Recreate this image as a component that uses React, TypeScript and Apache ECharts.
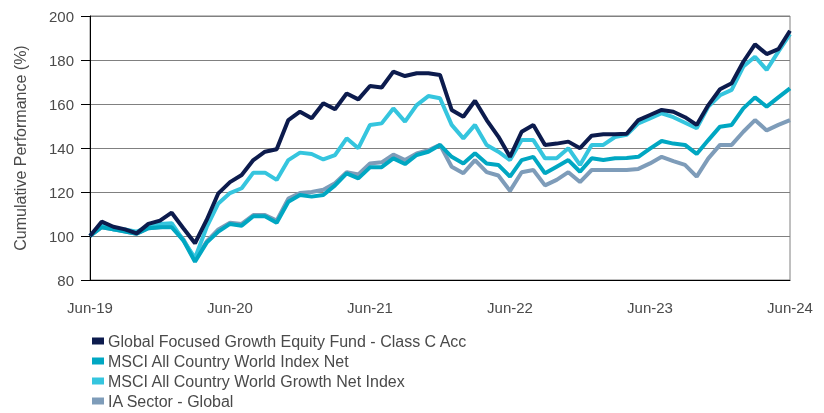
import React, { useEffect, useRef } from "react";
import * as echarts from "echarts";

const monthNames = ["Jan","Feb","Mar","Apr","May","Jun","Jul","Aug","Sep","Oct","Nov","Dec"];
const startYear = 2019;
const startMonth = 5; // June
const pointCount = 61;
const categories: string[] = Array.from({ length: pointCount }, (_, i) => {
  const m = (startMonth + i) % 12;
  const y = startYear + Math.floor((startMonth + i) / 12);
  return `${monthNames[m]}-${String(y).slice(2)}`;
});

const fundName = "Global Focused Growth Equity Fund - Class C Acc";
const acwiName = "MSCI All Country World Index Net";
const growthName = "MSCI All Country World Growth Net Index";
const iaName = "IA Sector - Global";

const fund = [
  100, 106.5, 104.2, 103, 101.2, 105.5, 107, 110.6, 103.5, 96.7,
  107.3, 119.4, 124.5, 127.7, 134.5, 138.3, 139.4, 152.7, 156.5, 153.5,
  160.3, 157.6, 164.8, 162.1, 168.2, 167.5, 174.7, 172.7, 174, 174,
  173.2, 157.3, 154.2, 161.5, 152.7, 145.2, 136, 147.4, 150.5, 141.4,
  142, 142.9, 139.9, 145.6, 146.2, 146.2, 146.5, 152.7, 155, 157.3,
  156.5, 154, 150.5, 159.5, 166.7, 169.4, 179.2, 187.1, 182.7, 184.9,
  193.3,
];
const acwi = [
  100, 104, 103, 102, 101, 103.5, 104, 104, 98, 88.3,
  97, 102, 105.5, 104.7, 109, 109, 106, 115.6, 118.6, 117.9,
  118.6, 123, 128.5, 126.2, 131.2, 131.3, 135.3, 132.7, 136.8, 138.3,
  141.4, 136, 133, 137.6, 133, 132.3, 127, 134.5, 136, 128.5,
  131.5, 134.5, 129.2, 135.3, 134.5, 135.3, 135.5, 136, 139.7, 143.2,
  142, 141.4, 137.3, 143.6, 149.7, 150.5, 158, 163, 158.8, 163,
  167.1,
];
const growth = [
  100, 105, 103, 103, 102, 104.2, 105.5, 105.8, 98, 90,
  104, 114.8, 119.5, 121.7, 128.8, 128.8, 125.5, 134.5, 137.9, 137.3,
  134.8, 136.8, 144.4, 139.9, 150.5, 151.2, 158, 152, 159.5, 163.6,
  162.6, 150.5, 144.4, 150.5, 141.4, 138.3, 134.5, 143.6, 143.6, 135.3,
  135.3, 139.9, 132.3, 141.4, 141.4, 145, 146, 151.2, 153.5, 155.8,
  154, 151.5, 149, 158.8, 164, 166.4, 177, 181.5, 175.5, 183.8,
  191.8,
];
const ia = [
  100, 104, 103, 102, 101, 103.5, 104, 104.5, 98.5, 89,
  97.5, 103, 106, 105.5, 109.5, 109.5, 107, 117, 119.5, 120,
  121, 124, 129, 128, 133, 133.5, 137, 134.5, 137.5, 139,
  141.4, 131.5, 128.5, 134.5, 129, 127.5, 120.5, 129, 130, 123,
  125.5, 129, 124.5, 130, 130, 130, 130, 130.5, 133, 136,
  134, 132.3, 127, 135.3, 141.4, 141.4, 147.4, 152.7, 148, 150.5,
  152.7,
];

const yMin = 80;
const yMax = 200;
const yInterval = 20;

const colors = {
  fund: "#0C1B4D",
  acwi: "#00A7C2",
  growth: "#35C5DE",
  ia: "#7E9CB9",
};

const fontFamily = "'Liberation Sans', Arial, Helvetica, sans-serif";
const textColor = "#4a4a4a";

export default function App() {
  const ref = useRef<HTMLDivElement>(null);
  useEffect(() => {
    if (!ref.current) return;
    const chart = echarts.init(ref.current, undefined, { renderer: "svg" });
    const mkSeries = (name: string, data: number[], color: string) => ({
      name,
      type: "line",
      data,
      symbol: "none",
      lineStyle: { width: 4, color },
      itemStyle: { color },
    });
    chart.setOption({
      animation: false,
      textStyle: { fontFamily },
      grid: {
        left: 90,
        right: 34,
        top: 16,
        bottom: 133,
        show: true,
        borderColor: "#808080",
        borderWidth: 1,
      },
      legend: {
        orient: "vertical",
        left: 92,
        top: 333,
        height: 90,
        padding: 0,
        icon: "rect",
        itemWidth: 12,
        itemHeight: 7,
        itemGap: 4,
        textStyle: { fontSize: 16, color: textColor, fontFamily, padding: [0, 0, 0, -1] },
        data: [fundName, acwiName, growthName, iaName],
      },
      xAxis: {
        type: "category",
        boundaryGap: false,
        data: categories,
        axisLine: { lineStyle: { color: "#000", width: 1 } },
        axisTick: { show: false },
        axisLabel: {
          interval: (i: number) => i % 12 === 0,
          margin: 20,
          fontSize: 15,
          color: textColor,
          fontFamily,
        },
        splitLine: { show: false },
      },
      yAxis: {
        type: "value",
        min: yMin,
        max: yMax,
        interval: yInterval,
        name: "Cumulative Performance (%)",
        nameLocation: "middle",
        nameGap: 62,
        nameRotate: 90,
        nameTextStyle: { fontSize: 16, color: textColor, fontFamily },
        axisLine: { show: true, lineStyle: { color: "#000", width: 1 } },
        axisTick: { show: true, length: 9, inside: false, lineStyle: { color: "#000" } },
        axisLabel: { margin: 16, fontSize: 15, color: textColor, fontFamily },
        splitLine: { show: true, lineStyle: { color: "#808080", width: 1 } },
      },
      series: [
        mkSeries(iaName, ia, colors.ia),
        mkSeries(growthName, growth, colors.growth),
        mkSeries(acwiName, acwi, colors.acwi),
        mkSeries(fundName, fund, colors.fund),
      ],
    });
    return () => chart.dispose();
  }, []);
  return (
    <div
      ref={ref}
      style={{ position: "fixed", left: 0, top: 0, width: 824, height: 413 }}
    />
  );
}
